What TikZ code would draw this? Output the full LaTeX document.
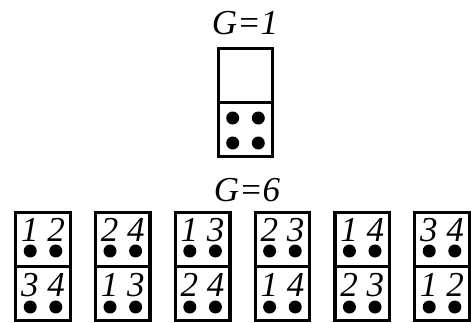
\documentclass[tikz,border=0pt]{standalone}
\usepackage{fontspec}
\setmainfont{Liberation Serif}
\usetikzlibrary{positioning,calc}

\begin{document}
\begin{tikzpicture}[x=1pt,y=-1pt,
    half/.style={rectangle, draw, line width=3.3pt, minimum width=54.5pt,
                 minimum height=54pt, inner sep=0pt},
    pip/.style={circle, fill, inner sep=0pt, minimum size=13pt},
    lbl/.style={anchor=base, inner sep=0pt,
                font=\fontsize{35}{40}\selectfont\itshape}]
    \useasboundingbox (0,0) rectangle (471,322);
    % single domino
    \node[lbl] (g1) at (245,34) {G=1};
    \node[half] (top) at (245.5,75.5) {};
    \node[half] (bot) at (245.5,129.5) {};
    \node[pip] (b1) at (232.7,118) {};
    \node[pip] (b2) at (258.3,118) {};
    \node[pip] (b3) at (232.7,143) {};
    \node[pip] (b4) at (258.3,143) {};
    % six labelled dominoes
    \node[lbl] (g6) at (247,201.5) {G=6};
    \foreach \i/\a/\b in {0/1 2/3 4, 1/2 4/1 3, 2/1 3/2 4,
                          3/2 3/1 4, 4/1 4/2 3, 5/3 4/1 2} {
      \pgfmathsetmacro\cx{43+79.8*\i}
      \node[half] (u\i) at (\cx,239.5) {};
      \node[half] (v\i) at (\cx,293.5) {};
      \node[lbl] (a\i) at (\cx,241.7) {\a};
      \node[lbl] (c\i) at (\cx,296.7) {\b};
      \node[pip] (ua\i) at (\cx-12.8,251) {};
      \node[pip] (ub\i) at (\cx+12.8,251) {};
      \node[pip] (va\i) at (\cx-12.8,307) {};
      \node[pip] (vb\i) at (\cx+12.8,307) {};
    }
\end{tikzpicture}
\end{document}
